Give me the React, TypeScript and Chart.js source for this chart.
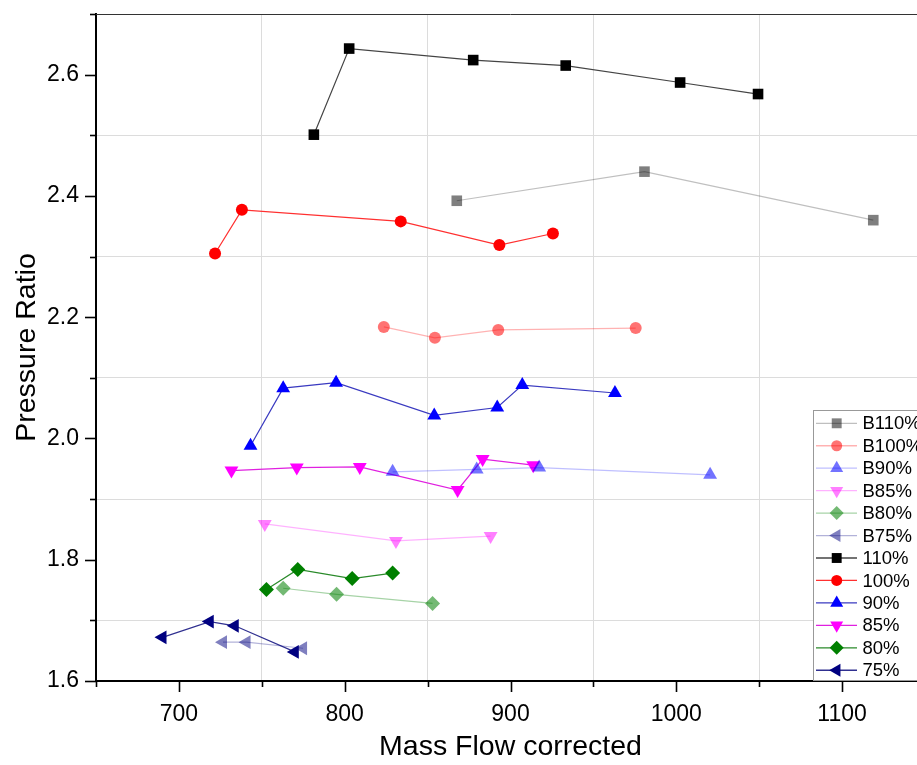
import React, { useEffect, useRef } from "react";
import { Chart, registerables } from "chart.js";
import { drawPoint } from "chart.js/helpers";

Chart.register(...registerables);

// ---- data ----
const seriesLabels = ["B110%", "B100%", "B90%", "B85%", "B80%", "B75%", "110%", "100%", "90%", "85%", "80%", "75%"];

const b110X = [867.6, 980.8, 1118.8];
const b110Y = [2.392, 2.44, 2.36];
const b100X = [823.6, 854.4, 892.6, 975.5];
const b100Y = [2.184, 2.166, 2.179, 2.182];
const b90X = [828.9, 879.6, 917.3, 1020.4];
const b90Y = [1.945, 1.949, 1.952, 1.94];
const b85X = [751.8, 830.9, 888.0];
const b85Y = [1.859, 1.831, 1.839];
const b80X = [762.9, 795.1, 853.0];
const b80Y = [1.753, 1.743, 1.728];
const b75X = [726.6, 740.8, 774.9];
const b75Y = [1.664, 1.664, 1.654];

const s110X = [781.4, 802.7, 877.5, 933.3, 1002.3, 1049.3];
const s110Y = [2.501, 2.643, 2.624, 2.615, 2.587, 2.568];
const s100X = [721.8, 738.0, 833.8, 893.3, 925.6];
const s100Y = [2.305, 2.377, 2.358, 2.319, 2.338];
const s90X = [743.2, 762.9, 794.8, 854.0, 892.0, 907.1, 963.0];
const s90Y = [1.988, 2.083, 2.092, 2.038, 2.051, 2.088, 2.075];
const s85X = [731.7, 771.1, 809.1, 868.1, 883.2, 913.7];
const s85Y = [1.947, 1.952, 1.953, 1.915, 1.966, 1.956];
const s80X = [752.8, 771.7, 804.5, 828.9];
const s80Y = [1.751, 1.784, 1.769, 1.778];
const s75X = [690.1, 718.6, 733.7, 769.9];
const s75Y = [1.672, 1.698, 1.691, 1.648];

const xTickLabels = ["700", "800", "900", "1000", "1100"];
const yTickLabels = ["1.6", "1.8", "2.0", "2.2", "2.4", "2.6"];

const FONT = "'Liberation Sans', Arial, Helvetica, sans-serif";

const zip = (xs: number[], ys: number[]) => xs.map((x, i) => ({ x, y: ys[i] }));

type Style = { pt: string; line: string; shape: string; rot: number; r: number };
const styles: Style[] = [
  { pt: "rgba(0,0,0,0.5)", line: "rgba(0,0,0,0.25)", shape: "rect", rot: 0, r: 7.5 },
  { pt: "rgba(255,0,0,0.55)", line: "rgba(255,0,0,0.3)", shape: "circle", rot: 0, r: 6 },
  { pt: "rgba(0,0,255,0.55)", line: "rgba(0,0,255,0.25)", shape: "triangle", rot: 0, r: 8 },
  { pt: "rgba(255,0,255,0.5)", line: "rgba(255,0,255,0.3)", shape: "triangle", rot: 180, r: 8 },
  { pt: "rgba(0,128,0,0.55)", line: "rgba(0,128,0,0.35)", shape: "rectRot", rot: 0, r: 7.5 },
  { pt: "rgba(0,0,128,0.5)", line: "rgba(0,0,128,0.3)", shape: "triangle", rot: -90, r: 8 },
  { pt: "#000000", line: "#444444", shape: "rect", rot: 0, r: 7.5 },
  { pt: "#ff0000", line: "#ff3030", shape: "circle", rot: 0, r: 6 },
  { pt: "#0000ff", line: "#3a3ac0", shape: "triangle", rot: 0, r: 8 },
  { pt: "#ff00ff", line: "#e020e0", shape: "triangle", rot: 180, r: 8 },
  { pt: "#008000", line: "#2a8a2a", shape: "rectRot", rot: 0, r: 7.5 },
  { pt: "#000080", line: "#303090", shape: "triangle", rot: -90, r: 8 },
];

const seriesData = [
  zip(b110X, b110Y), zip(b100X, b100Y), zip(b90X, b90Y), zip(b85X, b85Y), zip(b80X, b80Y), zip(b75X, b75Y),
  zip(s110X, s110Y), zip(s100X, s100Y), zip(s90X, s90Y), zip(s85X, s85Y), zip(s80X, s80Y), zip(s75X, s75Y),
];

const decorPlugin = {
  id: "decor",
  afterDraw(chart: any) {
    const { ctx, chartArea } = chart;
    const xs = chart.scales.x;
    const ys = chart.scales.y;
    ctx.save();
    // top border
    ctx.strokeStyle = "#333";
    ctx.lineWidth = 1;
    ctx.beginPath();
    ctx.moveTo(chartArea.left, chartArea.top + 0.5);
    ctx.lineTo(chartArea.right, chartArea.top + 0.5);
    ctx.stroke();
    // tick marks
    ctx.strokeStyle = "#000";
    ctx.lineWidth = 1.6;
    for (let k = 16; k <= 27; k++) {
      const py = Math.round(ys.getPixelForValue(k / 10)) + 0.5;
      const len = k % 2 === 0 ? 11 : 6;
      ctx.beginPath();
      ctx.moveTo(chartArea.left - len, py);
      ctx.lineTo(chartArea.left, py);
      ctx.stroke();
    }
    for (let v = 650; v <= 1150; v += 50) {
      const px = Math.round(xs.getPixelForValue(v)) + 0.5;
      const len = v % 100 === 0 ? 11 : 6;
      ctx.beginPath();
      ctx.moveTo(px, chartArea.bottom);
      ctx.lineTo(px, chartArea.bottom + len);
      ctx.stroke();
    }
    // legend
    const bx = 813.5, by = 410.5, bw = 140, bh = 270;
    ctx.fillStyle = "#fff";
    ctx.fillRect(bx, by, bw, bh);
    ctx.strokeStyle = "#999";
    ctx.lineWidth = 1;
    ctx.strokeRect(bx, by, bw, bh);
    chart.data.datasets.forEach((ds: any, i: number) => {
      const st = styles[i];
      const cy = 423.3 + i * 22.45;
      ctx.strokeStyle = st.line;
      ctx.lineWidth = 1.3;
      ctx.beginPath();
      ctx.moveTo(816, cy);
      ctx.lineTo(857, cy);
      ctx.stroke();
      ctx.fillStyle = st.pt;
      drawPoint(ctx, { pointStyle: st.shape, rotation: st.rot, radius: st.r - 0.5, borderWidth: 0 }, 836.7, cy);
      ctx.fillStyle = "#000";
      ctx.font = `18.5px ${FONT}`;
      ctx.textAlign = "left";
      ctx.textBaseline = "middle";
      ctx.fillText(ds.label, 862.5, cy + 1);
    });
    ctx.restore();
  },
};

export default function App() {
  const ref = useRef<HTMLCanvasElement | null>(null);
  useEffect(() => {
    if (!ref.current) return;
    const chart = new Chart(ref.current, {
      type: "scatter",
      data: {
        datasets: seriesData.map((d, i) => ({
          label: seriesLabels[i],
          data: d,
          showLine: true,
          borderColor: styles[i].line,
          borderWidth: 1.2,
          backgroundColor: styles[i].pt,
          pointBackgroundColor: styles[i].pt,
          pointBorderColor: styles[i].pt,
          pointBorderWidth: 0,
          pointStyle: styles[i].shape as any,
          rotation: styles[i].rot,
          pointRadius: styles[i].r,
          pointHoverRadius: styles[i].r,
          fill: false,
          tension: 0,
        })),
      },
      options: {
        animation: false,
        responsive: false,
        devicePixelRatio: 1,
        layout: { padding: { left: 0, right: 15, top: 14, bottom: 0 } },
        plugins: { legend: { display: false }, tooltip: { enabled: false } },
        scales: {
          x: {
            type: "linear",
            min: 650,
            max: 1150,
            afterFit: (s: any) => { s.height = 84; s.paddingLeft = 0; s.paddingRight = 0; },
            afterBuildTicks: (s: any) => {
              const t = [];
              for (let v = 650; v <= 1150; v += 50) t.push({ value: v });
              s.ticks = t;
            },
            ticks: {
              autoSkip: false,
              maxRotation: 0,
              padding: 20,
              color: "#000",
              font: { family: FONT, size: 23 },
              callback: (v: any) => {
                const s = String(Math.round(Number(v)));
                return xTickLabels.includes(s) ? s : "";
              },
            },
            grid: {
              drawTicks: false,
              lineWidth: 1,
              color: (c: any) => (c.tick && Math.round(c.tick.value) % 100 === 50 && c.tick.value > 660 && c.tick.value < 1140 ? "#dcdcdc" : "rgba(0,0,0,0)"),
            },
            border: { display: true, color: "#000", width: 2 },
            title: {
              display: true,
              text: "Mass Flow corrected",
              color: "#000",
              font: { family: FONT, size: 28.5 },
              padding: { top: 0, bottom: 1 },
            },
          },
          y: {
            type: "linear",
            min: 1.6,
            max: 2.7,
            afterFit: (s: any) => { s.width = 96; s.paddingTop = 0; s.paddingBottom = 0; },
            afterBuildTicks: (s: any) => {
              const t = [];
              for (let k = 16; k <= 27; k++) t.push({ value: k / 10 });
              s.ticks = t;
            },
            ticks: {
              autoSkip: false,
              padding: 17,
              color: "#000",
              font: { family: FONT, size: 23 },
              callback: (v: any) => {
                const s = (Math.round(Number(v) * 10) / 10).toFixed(1);
                return yTickLabels.includes(s) ? s : "";
              },
            },
            grid: {
              drawTicks: false,
              lineWidth: 1,
              color: (c: any) => {
                if (!c.tick) return "rgba(0,0,0,0)";
                const k = Math.round(c.tick.value * 10);
                return k % 2 === 1 && k < 27 ? "#dcdcdc" : "rgba(0,0,0,0)";
              },
            },
            border: { display: true, color: "#000", width: 2 },
            title: {
              display: true,
              text: "Pressure Ratio",
              color: "#000",
              font: { family: FONT, size: 28.5 },
              padding: { top: 10, bottom: 0 },
            },
          },
        },
      },
      plugins: [decorPlugin],
    });
    return () => chart.destroy();
  }, []);
  return (
    <div style={{ position: "fixed", left: 0, top: 0, width: 917, height: 765, overflow: "hidden", background: "#fff" }}>
      <canvas ref={ref} width={940} height={765} style={{ display: "block", width: 940, height: 765 }} />
    </div>
  );
}
